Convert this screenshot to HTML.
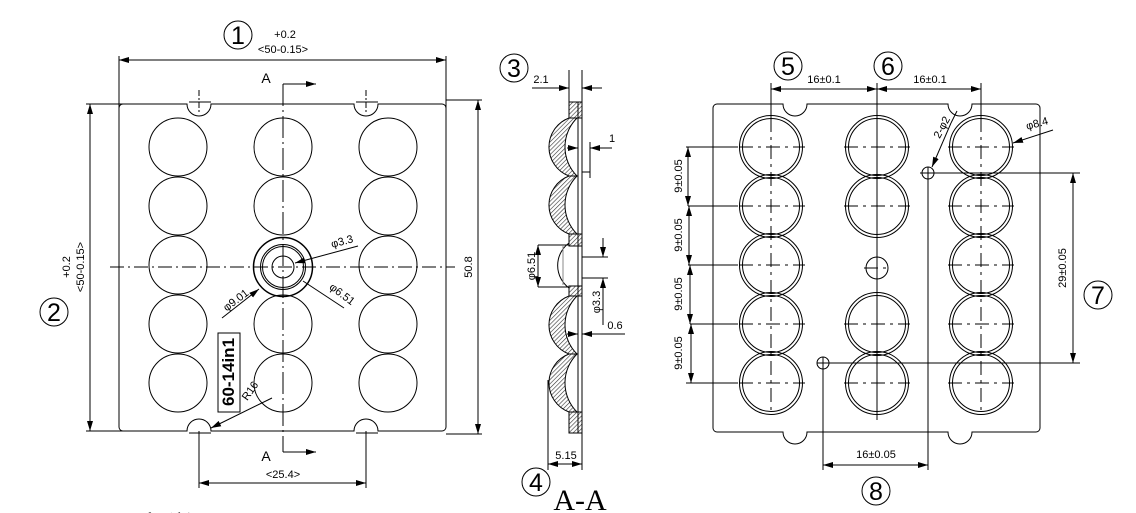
<!DOCTYPE html>
<html><head><meta charset="utf-8"><style>
html,body{margin:0;padding:0;background:#fff;overflow:hidden;width:1136px;height:513px}
svg{display:block}
text{font-family:"Liberation Sans","Noto Sans CJK SC",sans-serif;fill:#000}
.d{font-size:11px}
.s{font-family:"Liberation Serif","Noto Serif CJK SC",serif}
</style></head><body>
<svg width="1136" height="513" viewBox="0 0 1136 513" xmlns="http://www.w3.org/2000/svg">
<defs>
<pattern id="h" width="3" height="3" patternUnits="userSpaceOnUse" patternTransform="rotate(45)">
<rect width="3" height="3" fill="#fff"/><line x1="0" y1="0" x2="0" y2="3" stroke="#333" stroke-width="1.2"/>
</pattern>
<marker id="a" viewBox="0 0 10 6" refX="10" refY="3" markerWidth="10" markerHeight="6" orient="auto-start-reverse" markerUnits="userSpaceOnUse"><path d="M0,0 L10,3 L0,6z" fill="#000"/></marker>
<clipPath id="c"><rect width="1136" height="513"/></clipPath>
</defs>
<g fill="none" stroke="#000" stroke-width="1">
<path d="M123,104 H187 A12,12 0 0 0 211,104 H354 A12,12 0 0 0 378,104 H442 A4,4 0 0 1 446,108 V427 A4,4 0 0 1 442,431 H378 A12,12 0 0 0 354,431 H211 A12,12 0 0 0 187,431 H123 A4,4 0 0 1 119,427 V108 A4,4 0 0 1 123,104z"/>
<g>
<circle cx="178" cy="147" r="29"/><circle cx="178" cy="206" r="29"/><circle cx="178" cy="265" r="29"/><circle cx="178" cy="324" r="29"/><circle cx="178" cy="383" r="29"/>
<circle cx="283" cy="147" r="29"/><circle cx="283" cy="206" r="29"/><circle cx="283" cy="324" r="29"/><circle cx="283" cy="383" r="29"/>
<circle cx="388" cy="147" r="29"/><circle cx="388" cy="206" r="29"/><circle cx="388" cy="265" r="29"/><circle cx="388" cy="324" r="29"/><circle cx="388" cy="383" r="29"/>
</g>
<circle cx="283" cy="267" r="29.5" stroke-width="1.5"/>
<circle cx="283" cy="267" r="22.5"/><circle cx="283" cy="267" r="20.5"/>
<circle cx="283" cy="267" r="11"/>
<line x1="110" y1="267" x2="455" y2="267" stroke-dasharray="14,4,2,4"/>
<line x1="283" y1="84" x2="283" y2="452" stroke-dasharray="22,4,2,4"/>
<path d="M283,84 H316" marker-end="url(#a)"/><path d="M283,452 H316" marker-end="url(#a)"/>
<line x1="199" y1="90" x2="199" y2="112" stroke-dasharray="6,2,2,2"/><line x1="189" y1="102" x2="211" y2="102"/>
<line x1="366" y1="90" x2="366" y2="112" stroke-dasharray="6,2,2,2"/><line x1="356" y1="102" x2="378" y2="102"/>
<line x1="189" y1="433" x2="211" y2="433"/><line x1="356" y1="433" x2="378" y2="433"/>
<line x1="119" y1="56" x2="119" y2="165"/><line x1="446" y1="56" x2="446" y2="165"/>
<path d="M119,60 H446" marker-start="url(#a)" marker-end="url(#a)"/>
<line x1="86" y1="104" x2="156" y2="104"/><line x1="86" y1="431" x2="156" y2="431"/>
<path d="M90,104 V431" marker-start="url(#a)" marker-end="url(#a)"/>
<line x1="446" y1="100" x2="482" y2="100"/><line x1="446" y1="434" x2="482" y2="434"/>
<path d="M478,100 V434" marker-start="url(#a)" marker-end="url(#a)"/>
<line x1="199" y1="431" x2="199" y2="488"/><line x1="366" y1="431" x2="366" y2="488"/>
<path d="M199,483 H366" marker-start="url(#a)" marker-end="url(#a)"/>
<path d="M358,246 L295,263" marker-end="url(#a)"/>
<path d="M222,318 L259,289" marker-end="url(#a)"/>
<path d="M344,308 L303,281"/>
<path d="M272,398 L211,428" marker-end="url(#a)"/>
<rect x="218" y="333" width="22" height="79"/>
<path d="M569,102 H582 V118 H569 Z" fill="url(#h)"/>
<path d="M569,412 H582 V433 H569 Z" fill="url(#h)"/>
<path d="M577,118 L569,118 A31,31 0 0 0 569,176 L577,176 A41,41 0 0 1 577,118 Z" fill="url(#h)"/>
<path d="M577,176 L569,176 A31,31 0 0 0 569,234 L577,234 A41,41 0 0 1 577,176 Z" fill="url(#h)"/>
<path d="M577,296 L569,296 A31,31 0 0 0 569,354 L577,354 A41,41 0 0 1 577,296 Z" fill="url(#h)"/>
<path d="M577,354 L569,354 A31,31 0 0 0 569,412 L577,412 A41,41 0 0 1 577,354 Z" fill="url(#h)"/>
<path d="M569,234 H582 V246 H569 Z" fill="url(#h)"/>
<path d="M569,286 H582 V296 H569 Z" fill="url(#h)"/>
<path d="M569,243 A28,28 0 0 0 569,288"/>
<line x1="563" y1="246" x2="563" y2="285" stroke="#888"/>
<line x1="578" y1="102" x2="578" y2="433"/><line x1="582" y1="102" x2="582" y2="433"/>
<line x1="569" y1="70" x2="569" y2="102"/><line x1="582" y1="70" x2="582" y2="102"/>
<path d="M532,88 H569" marker-end="url(#a)"/><path d="M602,88 H582" marker-end="url(#a)"/>
<path d="M612,148 H590" marker-end="url(#a)"/><path d="M567,148 H578" marker-end="url(#a)"/>
<line x1="590" y1="142" x2="590" y2="178"/><line x1="582" y1="172" x2="590" y2="172"/>
<line x1="582" y1="257" x2="608" y2="257"/><line x1="582" y1="278" x2="608" y2="278"/>
<path d="M603,238 V257" marker-end="url(#a)"/><path d="M603,325 V278" marker-end="url(#a)"/>
<path d="M538,245 V287"/><path d="M538,245 H569"/><path d="M538,287 H569"/>
<path d="M538,255 V245" marker-end="url(#a)"/><path d="M538,277 V287" marker-end="url(#a)"/>
<path d="M625,334 H582" marker-end="url(#a)"/><path d="M567,334 H578" marker-end="url(#a)"/>
<line x1="548" y1="380" x2="548" y2="470"/><line x1="582" y1="433" x2="582" y2="470"/>
<path d="M548,464 H582" marker-start="url(#a)" marker-end="url(#a)"/>
<path d="M717,104 H783 A12,12 0 0 0 807,104 H948 A12,12 0 0 0 972,104 H1036 A4,4 0 0 1 1040,108 V428 A4,4 0 0 1 1036,432 H972 A12,12 0 0 1 948,432 H807 A12,12 0 0 1 783,432 H717 A4,4 0 0 1 713,428 V108 A4,4 0 0 1 717,104z"/>
<g>
<circle cx="771" cy="147" r="31.5"/><circle cx="771" cy="206" r="31.5"/><circle cx="771" cy="265" r="31.5"/><circle cx="771" cy="324" r="31.5"/><circle cx="771" cy="383" r="31.5"/>
<circle cx="877" cy="147" r="31.5"/><circle cx="877" cy="206" r="31.5"/><circle cx="877" cy="324" r="31.5"/><circle cx="877" cy="383" r="31.5"/>
<circle cx="981" cy="147" r="31.5"/><circle cx="981" cy="206" r="31.5"/><circle cx="981" cy="265" r="31.5"/><circle cx="981" cy="324" r="31.5"/><circle cx="981" cy="383" r="31.5"/>
</g>
<g>
<circle cx="771" cy="147" r="28.5"/><circle cx="771" cy="206" r="28.5"/><circle cx="771" cy="265" r="28.5"/><circle cx="771" cy="324" r="28.5"/><circle cx="771" cy="383" r="28.5"/>
<circle cx="877" cy="147" r="28.5"/><circle cx="877" cy="206" r="28.5"/><circle cx="877" cy="324" r="28.5"/><circle cx="877" cy="383" r="28.5"/>
<circle cx="981" cy="147" r="28.5"/><circle cx="981" cy="206" r="28.5"/><circle cx="981" cy="265" r="28.5"/><circle cx="981" cy="324" r="28.5"/><circle cx="981" cy="383" r="28.5"/>
</g>
<circle cx="877" cy="268" r="11"/>
<circle cx="928" cy="173" r="6"/><circle cx="823" cy="363" r="6"/>
<g stroke-dasharray="14,5,3,5">
<line x1="739" y1="147" x2="805" y2="147"/><line x1="739" y1="206" x2="805" y2="206"/><line x1="739" y1="265" x2="805" y2="265"/><line x1="739" y1="324" x2="805" y2="324"/><line x1="739" y1="383" x2="805" y2="383"/>
<line x1="844" y1="147" x2="910" y2="147"/><line x1="844" y1="206" x2="910" y2="206"/><line x1="844" y1="324" x2="910" y2="324"/><line x1="844" y1="383" x2="910" y2="383"/>
<line x1="948" y1="147" x2="1014" y2="147"/><line x1="948" y1="206" x2="1014" y2="206"/><line x1="948" y1="265" x2="1014" y2="265"/><line x1="948" y1="324" x2="1014" y2="324"/><line x1="948" y1="383" x2="1014" y2="383"/>
<line x1="864" y1="268" x2="890" y2="268"/><line x1="877" y1="255" x2="877" y2="281"/>
<line x1="771" y1="118" x2="771" y2="415"/><line x1="877" y1="232" x2="877" y2="240"/><line x1="877" y1="291" x2="877" y2="299"/>
<line x1="981" y1="118" x2="981" y2="415"/>
</g>
<line x1="771" y1="83" x2="771" y2="118"/><line x1="877" y1="83" x2="877" y2="420"/><line x1="981" y1="83" x2="981" y2="118"/>
<path d="M771,89 H877" marker-start="url(#a)" marker-end="url(#a)"/>
<path d="M877,89 H981" marker-start="url(#a)" marker-end="url(#a)"/>
<line x1="686" y1="147" x2="738" y2="147"/><line x1="688" y1="206" x2="738" y2="206"/><line x1="688" y1="265" x2="738" y2="265"/><line x1="690" y1="324" x2="738" y2="324"/><line x1="686" y1="383" x2="738" y2="383"/>
<path d="M688,147 V206" marker-start="url(#a)" marker-end="url(#a)"/>
<path d="M689,206 V265" marker-start="url(#a)" marker-end="url(#a)"/>
<path d="M690,265 V324" marker-start="url(#a)" marker-end="url(#a)"/>
<path d="M691,324 V383" marker-start="url(#a)" marker-end="url(#a)"/>
<line x1="920" y1="173" x2="1080" y2="173"/><line x1="817" y1="363" x2="1080" y2="363"/>
<path d="M1073,173 V363" marker-start="url(#a)" marker-end="url(#a)"/>
<line x1="928" y1="167" x2="928" y2="470"/><line x1="823" y1="357" x2="823" y2="470"/>
<path d="M823,465 H928" marker-start="url(#a)" marker-end="url(#a)"/>
<path d="M951,123 L932,167" marker-end="url(#a)"/><line x1="951" y1="123" x2="957" y2="111"/>
<path d="M1053,130 L1013,143" marker-end="url(#a)"/>
<circle cx="238" cy="35" r="14"/><circle cx="54" cy="312" r="14"/>
<circle cx="514" cy="68" r="14"/><circle cx="536" cy="482" r="14"/>
<circle cx="788" cy="66" r="14"/><circle cx="888" cy="66" r="14"/>
<circle cx="1098" cy="295" r="14"/><circle cx="876" cy="491" r="14"/>
</g>
<g class="s" font-size="25" text-anchor="middle">
<text x="238" y="44">1</text><text x="54" y="321">2</text>
<text x="514" y="77">3</text><text x="536" y="491">4</text>
<text x="788" y="75">5</text><text x="888" y="75">6</text>
<text x="1098" y="304">7</text><text x="876" y="500">8</text>
</g>
<text x="580" y="510" class="s" font-size="30" text-anchor="middle">A-A</text>
<g clip-path="url(#c)"><text x="180" y="538" font-size="30" text-anchor="middle">光学面</text></g>
<g class="d" text-anchor="middle">
<text x="285" y="38">+0.2</text><text x="283" y="53">&lt;50-0.15&gt;</text>
<text transform="translate(70,267) rotate(-90)">+0.2</text>
<text transform="translate(84,267) rotate(-90)">&lt;50-0.15&gt;</text>
<text transform="translate(472,267) rotate(-90)">50.8</text>
<text x="266" y="83" font-size="14">A</text><text x="266" y="461" font-size="14">A</text>
<text x="283" y="478">&lt;25.4&gt;</text>
<text transform="translate(343,245) rotate(-15)">φ3.3</text>
<text transform="translate(238,303) rotate(-37)">φ9.01</text>
<text transform="translate(340,297) rotate(37)">φ6.51</text>
<text transform="translate(253,393) rotate(-55)">R16</text>
<text transform="translate(234,372) rotate(-90)" font-size="17" font-weight="bold">60-14in1</text>
<text x="541" y="83">2.1</text>
<text x="612" y="142">1</text>
<text transform="translate(535,266) rotate(-90)">φ6.51</text>
<text transform="translate(600,302) rotate(-90)">φ3.3</text>
<text x="615" y="329">0.6</text>
<text x="566" y="459">5.15</text>
<text x="824" y="83">16±0.1</text><text x="930" y="83">16±0.1</text>
<text transform="translate(682,176) rotate(-90)">9±0.05</text>
<text transform="translate(682,235) rotate(-90)">9±0.05</text>
<text transform="translate(682,294) rotate(-90)">9±0.05</text>
<text transform="translate(682,353) rotate(-90)">9±0.05</text>
<text transform="translate(1066,268) rotate(-90)">29±0.05</text>
<text x="876" y="458">16±0.05</text>
<text transform="translate(945,129) rotate(-62)">2-φ2</text>
<text transform="translate(1038,127) rotate(-15)">φ8.4</text>
</g>
</svg>
</body></html>
